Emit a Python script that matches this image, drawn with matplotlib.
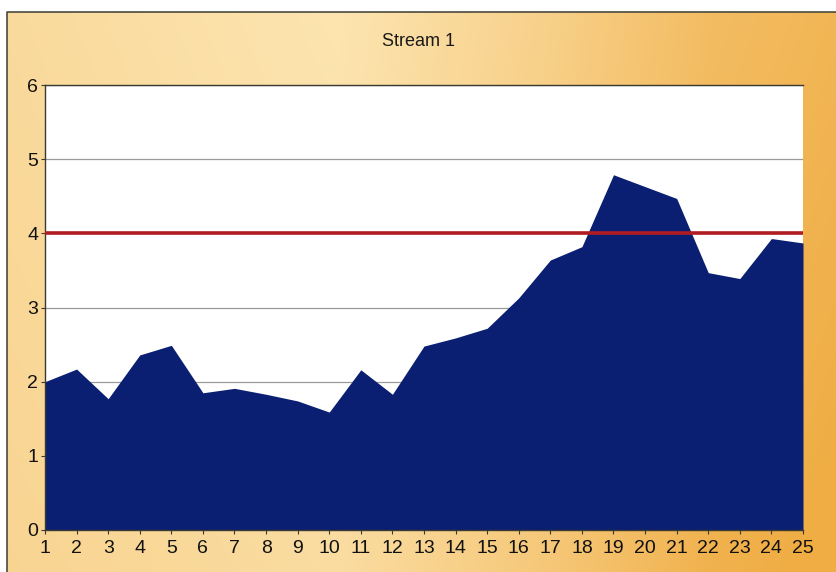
import numpy as np
import matplotlib.pyplot as plt

days = list(range(1, 26))
stream = [2.0, 2.17, 1.77, 2.36, 2.49, 1.85, 1.91, 1.83, 1.74, 1.59,
          2.16, 1.83, 2.48, 2.59, 2.72, 3.13, 3.64, 3.82, 4.79, 4.63,
          4.47, 3.47, 3.39, 3.93, 3.87]
limit = 4.0
yticks = [0, 1, 2, 3, 4, 5, 6]

plt.rcParams['font.family'] = ['Liberation Sans Narrow', 'Liberation Sans', 'DejaVu Sans']

W, H = 836, 572
fig = plt.figure(figsize=(W / 100, H / 100), dpi=100)
fig.patch.set_facecolor('white')

# orange backdrop: pale on the left and top middle, deeper orange to the right
bg = fig.add_axes([0, 0, 1, 1], zorder=0)
bg.set_xlim(0, W)
bg.set_ylim(H, 0)
bg.axis('off')
gx, gy = np.meshgrid(np.linspace(0, 1, 400), np.linspace(0, 1, 300))
shade = np.interp(gx, [0, 0.1, 0.4, 0.65, 0.85, 1.0], [0.3, 0.25, 0.08, 0.4, 0.75, 0.85])
shade = shade + 0.2 * gy * gx - 0.1 * (1 - gy) * (1 - gx)
shade = np.clip(shade, 0, 1)[..., None]
light = np.array([0.99, 0.90, 0.70])
dark = np.array([0.94, 0.68, 0.27])
img = light * (1 - shade) + dark * shade
bg.imshow(img, extent=[7, 836, 572, 12], aspect='auto', zorder=0)
bg.plot([7, 7, 836], [572, 12, 12], color='#4a4a40', lw=1.2, zorder=1)

ax = fig.add_axes([45 / W, 1 - 530 / H, 758 / W, 445 / H], zorder=2)
ax.set_facecolor('white')
ax.fill_between(days, stream, 0, color='#0a1e72', lw=0, zorder=2)
ax.axhline(limit, color='#b01c22', lw=2.6, zorder=3)

ax.set_xlim(1, 25)
ax.set_ylim(0, 6)
ax.set_xticks(days)
ax.set_yticks(yticks)
ax.yaxis.grid(True, color='#9a9a9a', lw=0.9, zorder=1)
ax.set_axisbelow(True)
for s in ['top', 'left', 'bottom']:
    ax.spines[s].set_color('#3a3a30')
    ax.spines[s].set_linewidth(1.0)
ax.spines['right'].set_visible(False)
ax.tick_params(axis='both', colors='#3a3a30', length=3, width=0.8,
               labelsize=14, labelcolor='#111111')
ax.tick_params(axis='x', pad=4)
ax.tick_params(axis='y', pad=2)

fig.text(418 / W, 1 - 42 / H, 'Stream 1', ha='center', va='center',
         fontsize=13, color='#1a1a1a')

fig.savefig('out.png', dpi=100)
